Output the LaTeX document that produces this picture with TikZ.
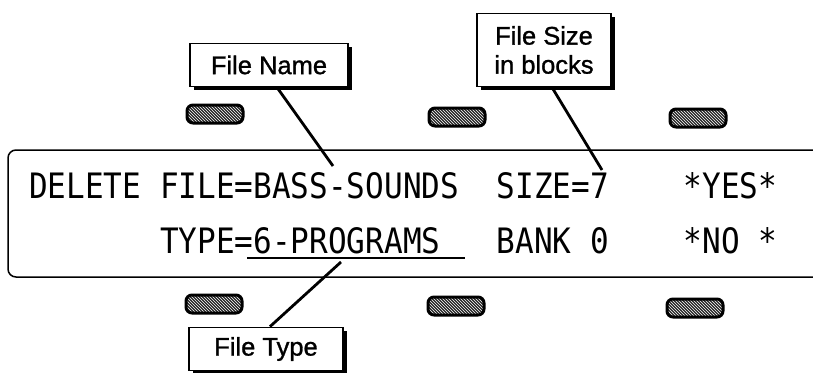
\documentclass[tikz,border=0pt]{standalone}
\usepackage{fontspec}
\setmainfont{Liberation Sans}[AutoFakeBold=1.1]
\newfontfamily\lcdfont[FakeStretch=0.887]{DejaVu Sans Mono}
\usetikzlibrary{patterns,shadows}

\begin{document}
\begin{tikzpicture}[x=1pt, y=-1pt,
  lcd/.style={font=\lcdfont\fontsize{35}{35}\selectfont, anchor=base west, inner sep=0pt},
  tag/.style={draw, line width=1.8pt, fill=white, align=center, inner sep=0pt,
              font=\bfseries\fontsize{25.5}{29}\selectfont,
              drop shadow={shadow xshift=3.5pt, shadow yshift=-3.5pt, fill=black, opacity=1}},
  btn/.style={draw, line width=3pt, rounded corners=6pt, minimum width=56pt, minimum height=18pt,
              preaction={fill=black!85}, pattern=north west lines, pattern color=white},
  lead/.style={line width=2.8pt}
]
\clip (0,0) rectangle (813,372);

% Display window
\draw[line width=1.5pt, rounded corners=8pt] (8,150) rectangle (840,277);

% Display text
\node[lcd] (del)   at ({29+0*18.7},198)  {DELETE};
\node[lcd] (fname) at ({29+7*18.7},198)  {FILE=BASS-SOUNDS};
\node[lcd] (size)  at ({29+25*18.7},198) {SIZE=7};
\node[lcd] (yes)   at ({29+35*18.7},198) {*YES*};
\node[lcd] (type)  at ({29+7*18.7},253)  {TYPE=6-PROGRAMS};
\node[lcd] (bank)  at ({29+25*18.7},253) {BANK};
\node[lcd] (bnum)  at ({29+30*18.7},253) {0};
\node[lcd] (no)    at ({29+35*18.7},253) {*NO};
\node[lcd] (nostar) at ({29+39*18.7},253) {*};
\draw[line width=2.2pt] (247,258) -- (465,258);

% Soft buttons
\foreach \x/\y [count=\i] in {215/114, 457/117, 698/118}
  \node[btn] (btnT\i) at (\x,\y) {};
\foreach \x/\y [count=\i] in {214/304, 456/306, 695/308}
  \node[btn] (btnB\i) at (\x,\y) {};

% Callouts
\coordinate (nameTip) at (333,166);
\coordinate (sizeTip) at (602,170);
\coordinate (typeTip) at (341,262);

\node[tag, minimum width=158pt, minimum height=43pt] (lblName) at (269,65)  {File Name};
\node[tag, minimum width=134pt, minimum height=73pt] (lblSize) at (544,50)  {File Size\\in blocks};
\node[tag, minimum width=154pt, minimum height=43pt] (lblType) at (266,349) {File Type};

\draw[lead] ([xshift=8pt]lblName.south) -- (nameTip);
\draw[lead] ([xshift=8pt]lblSize.south) -- (sizeTip);
\draw[lead] ([xshift=4pt]lblType.north) -- (typeTip);

\end{tikzpicture}
\end{document}
